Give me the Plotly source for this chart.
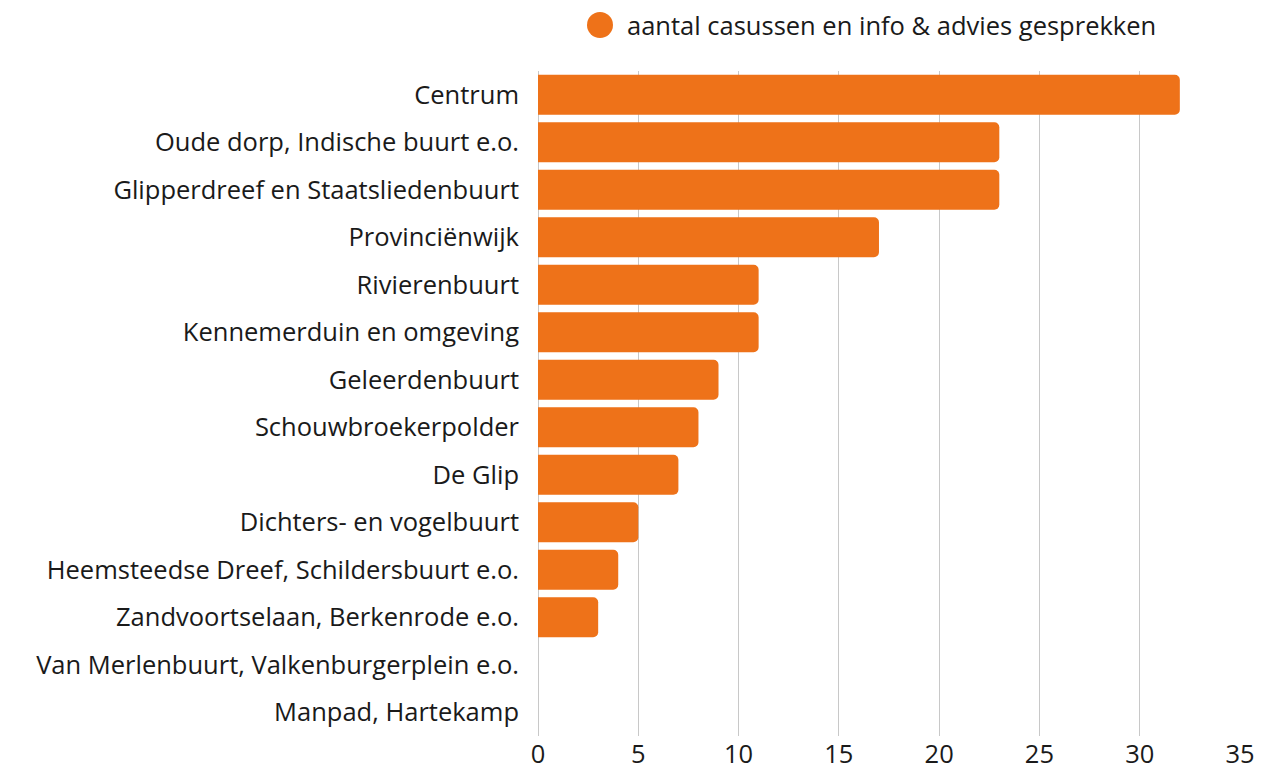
import plotly.graph_objects as go

categories = [
    "Centrum",
    "Oude dorp, Indische buurt e.o.",
    "Glipperdreef en Staatsliedenbuurt",
    "Provinciënwijk",
    "Rivierenbuurt",
    "Kennemerduin en omgeving",
    "Geleerdenbuurt",
    "Schouwbroekerpolder",
    "De Glip",
    "Dichters- en vogelbuurt",
    "Heemsteedse Dreef, Schildersbuurt e.o.",
    "Zandvoortselaan, Berkenrode e.o.",
    "Van Merlenbuurt, Valkenburgerplein e.o.",
    "Manpad, Hartekamp",
]
values = [32, 23, 23, 17, 11, 11, 9, 8, 7, 5, 4, 3, 0, 0]
series_name = "aantal casussen en info & advies gesprekken"
tick_vals = [0, 5, 10, 15, 20, 25, 30, 35]

color = "#EE7219"
font = "Open Sans"
fs = 25.5
text_color = "#1a1a1a"

W, H = 1271, 762
L, R, T, B = 530, 39, 63, 34
PW, PH = W - L - R, H - T - B


def px_x(x):
    # screen x (page has 8px body offset) -> paper
    return (x - 8 - L) / PW


def px_y(y):
    return (H - B - (y - 8)) / PH


fig = go.Figure()
fig.add_trace(go.Bar(
    x=values, y=categories, orientation="h",
    marker=dict(color=color, line=dict(width=0), cornerradius=5),
    showlegend=False, name=series_name,
))

# legend: large circle swatch + label
fig.add_shape(type="circle", xref="paper", yref="paper",
              x0=px_x(587), x1=px_x(613), y0=px_y(38), y1=px_y(12),
              fillcolor=color, line=dict(width=0))
fig.add_annotation(text=series_name, xref="paper", yref="paper",
                   x=px_x(625), y=px_y(25), xanchor="left", yanchor="middle",
                   showarrow=False, font=dict(size=fs, color=text_color, family=font))

fig.update_layout(
    width=W, height=H,
    margin=dict(l=L, r=R, t=T, b=B, autoexpand=False),
    paper_bgcolor="white", plot_bgcolor="white",
    font=dict(family=font, size=fs, color=text_color),
    bargap=0.16,
    showlegend=False,
    xaxis=dict(range=[0, 35], tickvals=tick_vals, showgrid=True, gridcolor="#c8c8c8",
               gridwidth=1, zeroline=True, zerolinecolor="#c8c8c8", zerolinewidth=1,
               showline=False, ticks="", tickfont=dict(size=fs), automargin=False),
    yaxis=dict(autorange="reversed", categoryorder="array", categoryarray=categories,
               ticks="", ticklabelstandoff=18, showgrid=False, tickfont=dict(size=fs),
               automargin=False),
)
fig.write_html("out.html")
